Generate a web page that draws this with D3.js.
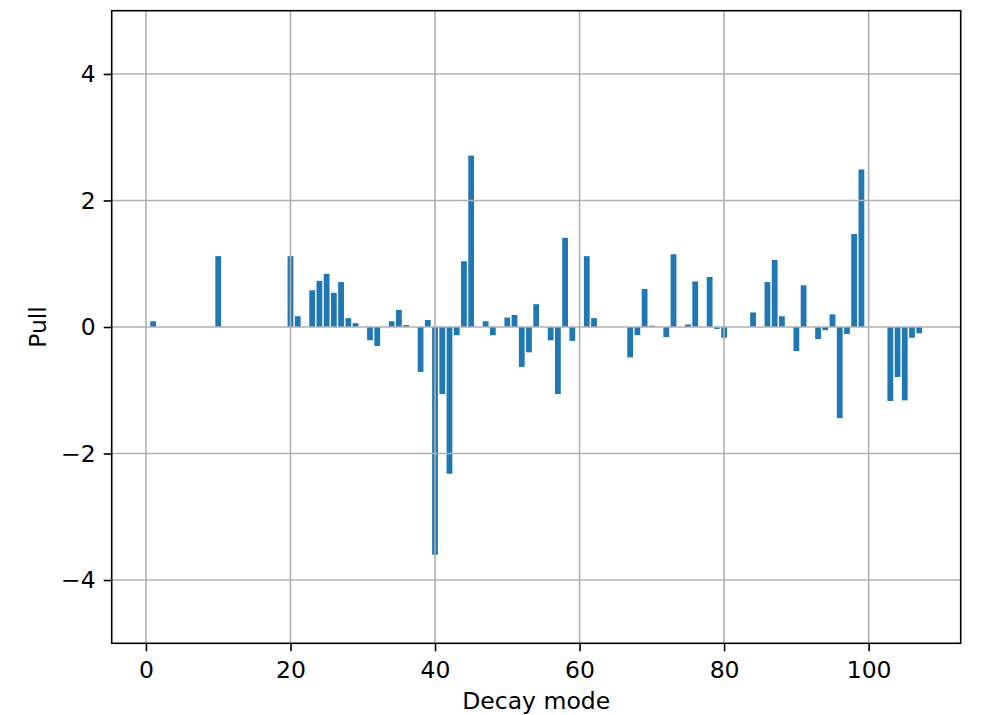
<!DOCTYPE html>
<meta charset="utf-8">
<style>
    body { margin: 0; background: #fff; }
    text { font-family: "DejaVu Sans", sans-serif; }
    .grid line { stroke: #b0b0b0; stroke-width: 1.6; }
    .bar { fill: #1f77b4; }
    .frame { fill: none; stroke: #000; stroke-width: 1.6; }
</style>
<svg width="982" height="715"></svg>
<script src="https://cdn.jsdelivr.net/npm/d3@7"></script>
<script>

    // decay modes numbered 1..107, one pull per mode
    var modes = d3.range(1, 108);
    var pulls = [
        0.09, 0, 0, 0, 0, 0, 0, 0, 0, 1.12,            // 1-10
        0, 0, 0, 0, 0, 0, 0, 0, 0, 1.12,               // 11-20
        0.17, 0, 0.58, 0.73, 0.84, 0.54, 0.71, 0.14, 0.06, 0,      // 21-30
        -0.21, -0.30, 0, 0.09, 0.27, 0.03, 0, -0.71, 0.11, -3.60,  // 31-40
        -1.06, -2.32, -0.13, 1.04, 2.71, 0, 0.09, -0.13, 0, 0.15,  // 41-50
        0.19, -0.63, -0.40, 0.36, 0, -0.21, -1.06, 1.41, -0.22, 0, // 51-60
        1.12, 0.14, 0, 0, 0, 0, -0.48, -0.13, 0.60, 0.02,          // 61-70
        0, -0.16, 1.15, 0, 0.04, 0.72, 0, 0.79, -0.03, -0.17,      // 71-80
        0, 0, 0, 0.23, 0, 0.71, 1.06, 0.17, 0, -0.38,              // 81-90
        0.66, 0, -0.19, -0.05, 0.20, -1.44, -0.11, 1.47, 2.49, 0,  // 91-100
        0, 0, -1.17, -0.79, -1.16, -0.17, -0.10                    // 101-107
    ];
    var xTicks = [0, 20, 40, 60, 80, 100];
    var yTicks = [-4, -2, 0, 2, 4];

    var svg = d3.select("svg"),
        margin = {top: 10.7, right: 21.3, bottom: 71.7, left: 111.7},
        width = +svg.attr("width") - margin.left - margin.right,
        height = +svg.attr("height") - margin.top - margin.bottom;

    var g = svg.append("g")
        .attr("transform", "translate(" + margin.left + "," + margin.top + ")");

    var barWidth = 0.8;

    var x = d3.scaleLinear()
        .domain([-4.74, 112.74])
        .range([0, width]);

    var y = d3.scaleLinear()
        .domain([-5, 5])
        .range([height, 0]);

    // bars first, matplotlib draws the grid on top of them
    g.selectAll(".bar")
        .data(modes)
        .enter().append("rect")
        .attr("class", "bar")
        .attr("x", function (d) { return x(d - barWidth / 2); })
        .attr("width", function (d) { return x(d + barWidth / 2) - x(d - barWidth / 2); })
        .attr("y", function (d, i) { return y(Math.max(0, pulls[i])); })
        .attr("height", function (d, i) { return Math.abs(y(pulls[i]) - y(0)); });

    g.append("g")
        .attr("class", "grid")
        .selectAll("line")
        .data(xTicks)
        .enter().append("line")
        .attr("x1", function (d) { return x(d); })
        .attr("x2", function (d) { return x(d); })
        .attr("y1", 0)
        .attr("y2", height);

    g.append("g")
        .attr("class", "grid")
        .selectAll("line")
        .data(yTicks)
        .enter().append("line")
        .attr("x1", 0)
        .attr("x2", width)
        .attr("y1", function (d) { return y(d); })
        .attr("y2", function (d) { return y(d); });

    var xAxis = g.append("g")
        .attr("transform", "translate(0," + height + ")")
        .call(d3.axisBottom(x).tickValues(xTicks).tickSize(8).tickPadding(10).tickFormat(d3.format("d")));

    var yAxis = g.append("g")
        .call(d3.axisLeft(y).tickValues(yTicks).tickSize(8).tickPadding(8).tickFormat(d3.format("d")));

    [xAxis, yAxis].forEach(function (a) {
        a.select(".domain").remove();
        a.attr("font-family", "DejaVu Sans").attr("font-size", 23.5);
        a.selectAll(".tick line").attr("stroke", "#000").attr("stroke-width", 1.6);
        a.selectAll(".tick text").attr("fill", "#000");
    });

    g.append("rect")
        .attr("class", "frame")
        .attr("width", width)
        .attr("height", height);

    svg.append("text")
        .attr("x", margin.left + width / 2)
        .attr("y", 708.5)
        .attr("text-anchor", "middle")
        .attr("font-size", 23.5)
        .text("Decay mode");

    svg.append("text")
        .attr("transform", "translate(45.7," + (margin.top + height / 2) + ") rotate(-90)")
        .attr("text-anchor", "middle")
        .attr("font-size", 23.5)
        .text("Pull");

</script>
